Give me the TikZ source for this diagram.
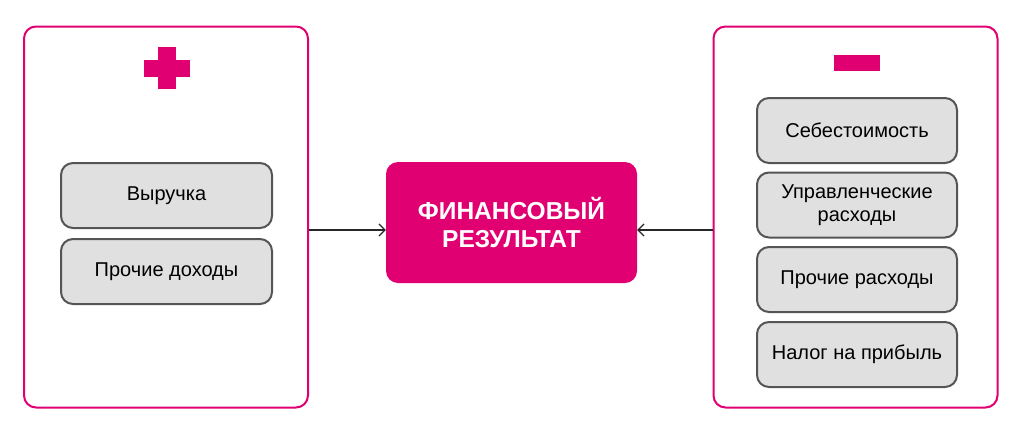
\documentclass[tikz,border=0pt]{standalone}
\usepackage{fontspec}
\setmainfont{Liberation Sans}
\usetikzlibrary{arrows.meta,positioning}

\definecolor{brandpink}{RGB}{224,0,114}
\definecolor{itemgray}{RGB}{224,224,224}
\definecolor{itemline}{RGB}{85,85,85}

\begin{document}
\begin{tikzpicture}[
    x=1pt, y=-1pt,
    panel/.style={rectangle, draw=brandpink, line width=2pt, rounded corners=12pt, minimum width=284pt, minimum height=381pt},
    item/.style={rectangle, draw=itemline, fill=itemgray, line width=2pt, rounded corners=12pt, align=center, font=\fontsize{20}{23}\selectfont, inner sep=0pt},
    resultbox/.style={rectangle, fill=brandpink, rounded corners=12pt, minimum width=251pt, minimum height=121pt, align=center, text=white, font=\fontsize{24.5}{28}\selectfont\bfseries},
    arrow/.style={-{Straight Barb[length=6pt,width=12pt]}, line width=1.2pt, draw=black!85}
]
\useasboundingbox (0,0) rectangle (1024,442);

% Panels
\node[panel] (plusbox) at (166,217) {};
\node[panel] (minusbox) at (855.5,217) {};

% Signs
\fill[brandpink] (158,47) rectangle (176,89);
\fill[brandpink] (144,60) rectangle (190,77);
\fill[brandpink] (834,55) rectangle (880,71);

% Income
\node[item, minimum width=211pt, minimum height=65pt] (revenue) at (166.5,195.5) {Выручка};
\node[item, minimum width=211pt, minimum height=65pt] (otherincome) at (166.5,271.5) {Прочие доходы};

% Expenses
\node[item, minimum width=200pt, minimum height=65pt] (cost) at (857,130.5) {Себестоимость};
\node[item, minimum width=200pt, minimum height=65pt] (mgmt) at (857,205) {Управленческие\\расходы};
\node[item, minimum width=200pt, minimum height=65pt] (otherexp) at (857,279.5) {Прочие расходы};
\node[item, minimum width=200pt, minimum height=65pt] (tax) at (857,354.5) {Налог на прибыль};

% Result
\node[resultbox] (result) at (511.5,222.5) {ФИНАНСОВЫЙ\\РЕЗУЛЬТАТ};

\coordinate (lin) at (0,230);
\draw[arrow] (plusbox.east |- lin) -- (result.west |- lin);
\draw[arrow] (minusbox.west |- lin) -- (result.east |- lin);

\end{tikzpicture}
\end{document}
